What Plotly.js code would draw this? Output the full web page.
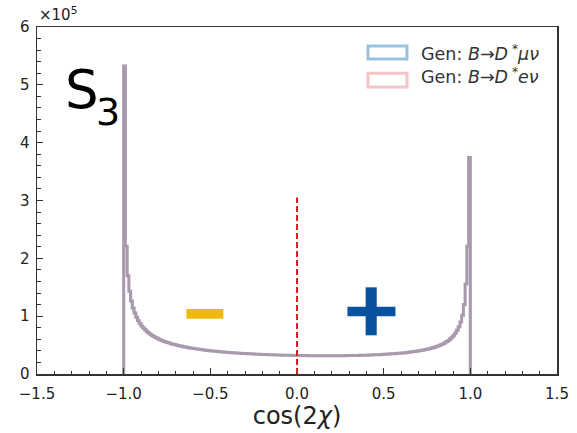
<!DOCTYPE html>
<html>
<head>
<meta charset="utf-8">
<script src="https://cdn.plot.ly/plotly-3.0.1.min.js"></script>
<style>html,body{margin:0;padding:0;background:#fff;}#chart{width:577px;height:433px;}</style>
</head>
<body>
<div id="chart"></div>
<script>
// ---- data (counts in units of 1e5), 200 bins of width 0.01 on [-1, 1] ----
const binStart = -1.0;
const binWidth = 0.01;
// Gen: B -> D* mu nu, bins from x=-1 up to x=0
const genMuLeft = [
 5.326,2.209,1.697,1.432,1.263,1.141,1.053,0.982,0.922,0.873,
 0.831,0.795,0.764,0.735,0.710,0.688,0.667,0.649,0.632,0.616,
 0.602,0.588,0.576,0.564,0.553,0.543,0.534,0.524,0.516,0.508,
 0.500,0.493,0.486,0.479,0.473,0.467,0.461,0.455,0.450,0.445,
 0.440,0.436,0.431,0.427,0.423,0.419,0.415,0.411,0.408,0.404,
 0.401,0.398,0.394,0.392,0.389,0.386,0.383,0.380,0.378,0.375,
 0.373,0.371,0.368,0.366,0.364,0.362,0.360,0.358,0.356,0.354,
 0.353,0.351,0.349,0.348,0.346,0.345,0.343,0.342,0.340,0.339,
 0.338,0.337,0.336,0.334,0.333,0.332,0.331,0.330,0.329,0.328,
 0.327,0.326,0.326,0.325,0.324,0.323,0.323,0.322,0.321,0.321
];
// bins from x=0 up to x=1
const genMuRight = [
 0.320,0.320,0.319,0.319,0.318,0.318,0.317,0.317,0.317,0.317,
 0.316,0.316,0.316,0.316,0.315,0.315,0.316,0.316,0.316,0.316,
 0.316,0.316,0.316,0.316,0.316,0.317,0.317,0.317,0.318,0.318,
 0.319,0.319,0.320,0.321,0.321,0.322,0.323,0.324,0.325,0.326,
 0.326,0.328,0.329,0.330,0.331,0.333,0.334,0.335,0.337,0.338,
 0.340,0.342,0.344,0.346,0.348,0.350,0.352,0.355,0.357,0.360,
 0.362,0.365,0.368,0.372,0.375,0.379,0.383,0.387,0.391,0.396,
 0.401,0.406,0.412,0.418,0.424,0.431,0.438,0.446,0.455,0.464,
 0.474,0.485,0.497,0.510,0.525,0.542,0.560,0.581,0.606,0.634,
 0.667,0.708,0.756,0.817,0.901,1.018,1.201,1.558,2.209,3.743
];
const genMu = genMuLeft.concat(genMuRight);
// Gen: B -> D* e nu is indistinguishable from the mu sample at this scale
const genE = genMu.slice();

const xTickVals = [-1.5,-1.0,-0.5,0.0,0.5,1.0,1.5];
const yTickVals = [0,1,2,3,4,5,6];
const divider = {x: 0, top: 3.05};

// ---- build step outlines ----
function stepXY(vals){
  const xs=[binStart], ys=[0];
  for(let i=0;i<vals.length;i++){ xs.push(binStart+i*binWidth); ys.push(vals[i]); }
  xs.push(binStart+vals.length*binWidth); ys.push(vals[vals.length-1]);
  xs.push(binStart+vals.length*binWidth); ys.push(0);
  return {xs, ys};
}
const mu = stepXY(genMu), el = stepXY(genE);

const traces = [
  {x: mu.xs, y: mu.ys, type:'scatter', mode:'lines', line:{shape:'hv', color:'rgba(31,119,180,0.45)', width:3}, showlegend:false, hoverinfo:'skip'},
  {x: el.xs, y: el.ys, type:'scatter', mode:'lines', line:{shape:'hv', color:'rgba(214,39,40,0.27)', width:3}, showlegend:false, hoverinfo:'skip'}
];

const FONT = 'DejaVu Sans, sans-serif';
const layout = {
  width:577, height:433,
  margin:{l:37, r:20, t:27, b:59},
  paper_bgcolor:'#fff', plot_bgcolor:'#fff',
  font:{family:FONT, color:'#222', size:15},
  xaxis:{range:[-1.5,1.5], tickvals:xTickVals, tickformat:'.1f', ticks:'inside', ticklen:6, tickwidth:1, tickcolor:'#333',
    showline:true, linecolor:'#333', linewidth:1.5, mirror:true, showgrid:false, zeroline:false, ticklabelstandoff:5,
    minor:{dtick:0.1, ticks:'inside', ticklen:3.5, tickcolor:'#333', showgrid:false},
    tickfont:{size:15, family:FONT, color:'#222'},
    title:{text:'cos(2<i>χ</i>)', font:{size:24, family:FONT, color:'#222'}, standoff:5}},
  yaxis:{range:[0,6], tickvals:yTickVals, ticks:'inside', ticklen:6, tickwidth:1, tickcolor:'#333',
    showline:true, linecolor:'#333', linewidth:1.5, mirror:true, showgrid:false, zeroline:false, ticklabelstandoff:3,
    minor:{dtick:0.2, ticks:'inside', ticklen:3.5, tickcolor:'#333', showgrid:false},
    tickfont:{size:15, family:FONT, color:'#222'}},
  shapes:[
    {type:'line', xref:'x', yref:'y', x0:divider.x, x1:divider.x, y0:0, y1:divider.top, line:{color:'rgb(220,30,35)', width:2, dash:'6px,3px'}},
    {type:'rect', xref:'x', yref:'y', x0:-0.638, x1:-0.425, y0:0.956, y1:1.124, fillcolor:'#ECBA0C', line:{width:0}},
    {type:'rect', xref:'x', yref:'y', x0:0.291, x1:0.568, y0:0.998, y1:1.164, fillcolor:'#0852A0', line:{width:0}},
    {type:'rect', xref:'x', yref:'y', x0:0.396, x1:0.460, y0:0.669, y1:1.499, fillcolor:'#0852A0', line:{width:0}},
    {type:'rect', xref:'paper', yref:'paper', x0:0.6365, x1:0.7115, y0:0.908, y1:0.945, fillcolor:'rgba(0,0,0,0)', line:{color:'rgba(31,119,180,0.45)', width:3}},
    {type:'rect', xref:'paper', yref:'paper', x0:0.6365, x1:0.7115, y0:0.827, y1:0.867, fillcolor:'rgba(0,0,0,0)', line:{color:'rgba(214,39,40,0.27)', width:3}}
  ],
  annotations:[
    {xref:'paper', yref:'paper', x:0.7346, y:0.9265, xanchor:'left', yanchor:'middle', showarrow:false,
     text:'Gen: <i>B</i>→<i>D</i><sup> *</sup><i>μν</i>', font:{size:17.5, family:FONT, color:'#333'}},
    {xref:'paper', yref:'paper', x:0.7346, y:0.8588, xanchor:'left', yanchor:'middle', showarrow:false,
     text:'Gen: <i>B</i>→<i>D</i><sup> *</sup><i>eν</i>', font:{size:17.5, family:FONT, color:'#333'}},
    {xref:'paper', yref:'paper', x:0.05, y:0.82, xanchor:'left', yanchor:'middle', showarrow:false,
     text:'S', font:{size:53, family:FONT, color:'#000'}},
    {xref:'paper', yref:'paper', x:0.11, y:0.755, xanchor:'left', yanchor:'middle', showarrow:false,
     text:'3', font:{size:38, family:FONT, color:'#000'}},
    {xref:'paper', yref:'paper', x:0, y:1, xanchor:'left', yanchor:'bottom', showarrow:false, yshift:1,
     text:'×10<sup>5</sup>', font:{size:15, family:FONT, color:'#222'}}
  ]
};

Plotly.newPlot('chart', traces, layout, {staticPlot:true, displayModeBar:false});
</script>
</body>
</html>
